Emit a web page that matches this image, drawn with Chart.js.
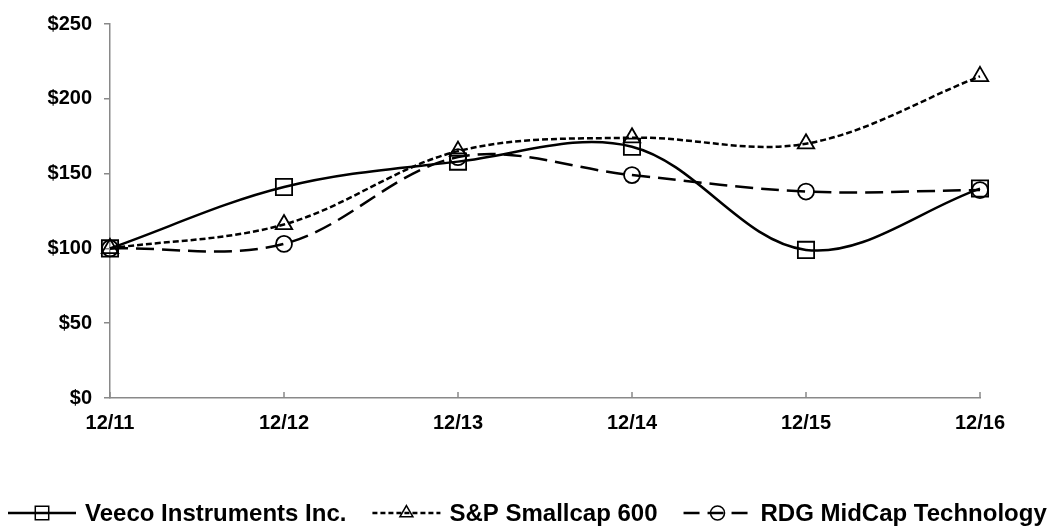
<!DOCTYPE html>
<html>
<head>
<meta charset="utf-8">
<script src="https://cdn.jsdelivr.net/npm/chart.js@4/dist/chart.umd.min.js"></script>
<style>
  html, body { margin: 0; padding: 0; background: #fff; }
  #wrap { width: 1050px; height: 527px; position: relative; }
</style>
</head>
<body>
<div id="wrap"><canvas id="grafico"></canvas></div>
<script>
// dados
const periodos = ['12/11', '12/12', '12/13', '12/14', '12/15', '12/16'];
const veeco = [100, 141, 158, 168, 99, 140];
const smallcap = [100, 116, 165, 174, 170, 215];
const rdgMidcap = [100, 103, 161, 149, 138, 139];
const yTicks = [0, 50, 100, 150, 200, 250];

const FONTE = "'Liberation Sans', Arial, sans-serif";
const CINZA = '#898989';

// legenda desenhada à mão: linha + marcador + texto
const legendaItens = [
    { texto: 'Veeco Instruments Inc.', dash: [], estilo: 'rect', raio: 9.5 },
    { texto: 'S&P Smallcap 600', dash: [5, 3], estilo: 'triangle', raio: 7.5 },
    { texto: 'RDG MidCap Technology', dash: [16, 8], estilo: 'circle', raio: 7 }
];

const legendaPlugin = {
    id: 'legendaPlugin',
    afterDraw(chart) {
        const ctx = chart.ctx;
        const y = 513;
        let x = 8;
        ctx.save();
        ctx.font = 'bold 24px ' + FONTE;
        ctx.textBaseline = 'middle';
        legendaItens.forEach(item => {
            ctx.strokeStyle = '#000';
            ctx.lineWidth = 2.5;
            ctx.setLineDash(item.dash);
            ctx.beginPath();
            ctx.moveTo(x, y);
            ctx.lineTo(x + 68, y);
            ctx.stroke();
            ctx.setLineDash([]);
            ctx.lineWidth = 1.5;
            ctx.fillStyle = 'rgba(0,0,0,0)';
            Chart.helpers.drawPoint(ctx, {
                pointStyle: item.estilo, radius: item.raio, borderWidth: 1.5, rotation: 0
            }, x + 34, y);
            ctx.fillStyle = '#000';
            ctx.fillText(item.texto, x + 77, y + 1);
            x += 77 + ctx.measureText(item.texto).width + 26;
        });
        ctx.restore();
    }
};

// marcas do eixo x para dentro
const marcasX = {
    id: 'marcasX',
    afterDraw(chart) {
        const sx = chart.scales.x;
        const ctx = chart.ctx;
        ctx.save();
        ctx.strokeStyle = CINZA;
        ctx.lineWidth = 1.5;
        periodos.forEach((p, i) => {
            const px = sx.getPixelForValue(i);
            ctx.beginPath();
            ctx.moveTo(px, sx.top);
            ctx.lineTo(px, sx.top - 6);
            ctx.stroke();
        });
        ctx.restore();
    }
};

function serie(label, dados, dash, estilo, raio) {
    return {
        label: label,
        data: dados,
        borderColor: '#000',
        backgroundColor: 'transparent',
        borderWidth: 2.5,
        borderDash: dash,
        tension: 0.35,
        pointStyle: estilo,
        pointRadius: raio,
        pointBorderWidth: 1.8,
        pointBorderColor: '#000',
        pointBackgroundColor: 'transparent',
        fill: false
    };
}

new Chart(document.getElementById('grafico'), {
    type: 'line',
    data: {
        labels: periodos,
        datasets: [
            serie('RDG MidCap Technology', rdgMidcap, [18, 8], 'circle', 8),
            serie('S&P Smallcap 600', smallcap, [6, 3], 'triangle', 9.5),
            serie('Veeco Instruments Inc.', veeco, [], 'rect', 11.5)
        ]
    },
    options: {
        responsive: true,
        maintainAspectRatio: false,
        animation: false,
        layout: { padding: { top: 17, right: 70, bottom: 0, left: 0 } },
        plugins: { legend: { display: false }, tooltip: { enabled: false } },
        scales: {
            x: {
                offset: false,
                grid: { display: false, drawTicks: false },
                border: { color: CINZA, width: 1.5 },
                ticks: { color: '#000', font: { family: FONTE, size: 20, weight: 'bold' }, padding: 13, maxRotation: 0 },
                afterFit(s) { s.height = 129; }
            },
            y: {
                min: 0,
                max: 250,
                afterBuildTicks(s) { s.ticks = yTicks.map(v => ({ value: v })); },
                grid: { drawOnChartArea: false, drawTicks: true, tickLength: 6, color: CINZA, lineWidth: 1.5 },
                border: { color: CINZA, width: 1.5 },
                ticks: {
                    color: '#000',
                    font: { family: FONTE, size: 20, weight: 'bold' },
                    padding: 12,
                    callback: v => '$' + v
                },
                afterFit(s) { s.width = 110; }
            }
        }
    },
    plugins: [marcasX, legendaPlugin]
});
</script>
</body>
</html>
